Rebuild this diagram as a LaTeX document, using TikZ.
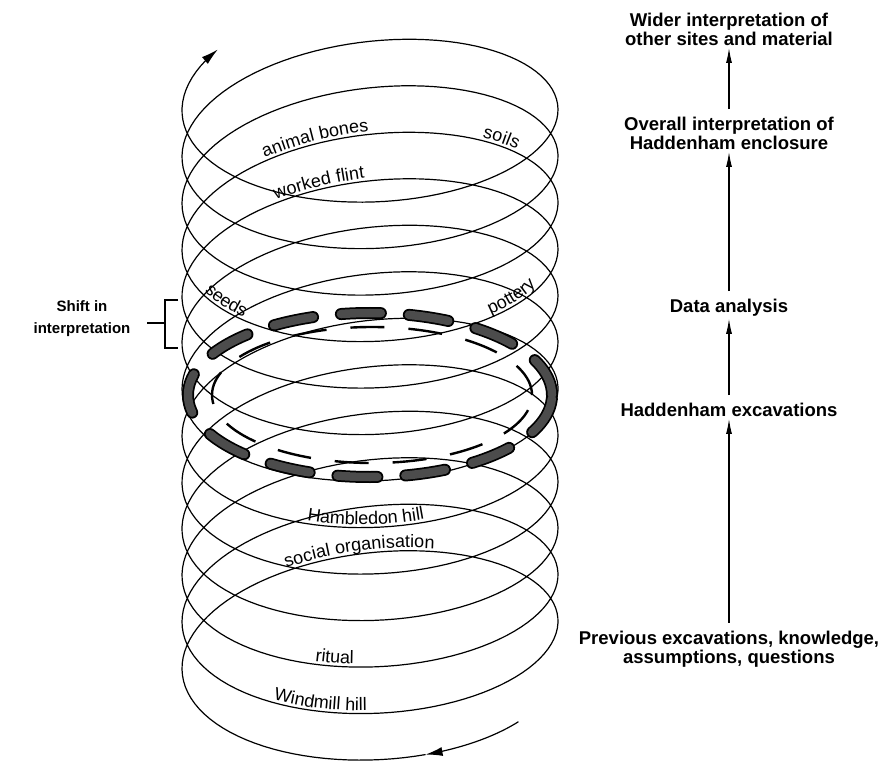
\documentclass[tikz,border=0pt]{standalone}
\usepackage{fontspec}
\setmainfont{Liberation Sans}
\usetikzlibrary{arrows.meta,decorations.text,positioning}

\tikzstyle{coil} = [line width=1.2pt]
\tikzstyle{arrow} = [line width=1.1pt,-{Latex[length=15pt,width=6pt]},shorten <=6pt]
\newcommand\labfont{\fontsize{18}{18}\selectfont}
\newcommand\coilpath[2]{plot[domain=#1:#2,samples=40] ({hx(\x)},{hy(\x)})}

\begin{document}
\begin{tikzpicture}[x=1pt,y=1pt,
  declare function={hx(\t)=370-188*sin(\t r); hy(\t)=96+7.4*\t-92*cos(\t r)-12*sin(\t r);},
  stage/.style={font=\fontsize{18.5}{19}\selectfont\bfseries, align=center, inner sep=2pt},
  coillabel/.style={decorate, decoration={text along path, text align=center, raise=3pt, text={|\labfont|#1}}},
  ringdash/.style={line cap=round, dash pattern=on 40pt off 28pt}]
\useasboundingbox (0,0) rectangle (888,764);

% SPIRAL
\draw[coil,-{Latex[length=17pt,width=9pt]}] plot[domain=-0.91:-0.3,samples=20] ({hx(\x)},{hy(\x)});
\draw[coil,-{Latex[length=17pt,width=9pt]}] plot[domain=-0.3:77.6,samples=1300] ({hx(\x)},{hy(\x)});

% SHIFT RING
\draw[ringdash,line width=12pt] (370,369) ellipse [x radius=182pt, y radius=82pt];
\draw[ringdash,line width=8.5pt,gray!60!black] (370,369) ellipse [x radius=182pt, y radius=82pt];
\draw[line width=2.4pt,dash pattern=on 34pt off 24pt] (372,369) ellipse [x radius=160pt, y radius=68pt];

% LABELS ON THE COILS
\path[coillabel={Windmill hill}] \coilpath{7.8}{5.6};
\path[coillabel={ritual}] \coilpath{13.5}{12.1};
\path[coillabel={Hambledon hill}] \coilpath{32.4}{30.5};
\path[coillabel={social organisation}] \coilpath{2.0}{4.2};
\path[coillabel={animal bones}] \coilpath{58.6}{60.1};
\path[coillabel={worked flint}] \coilpath{52.4}{53.8};
\path[coillabel={soils}] \coilpath{60.1}{60.9};
\path[coillabel={seeds}] \coilpath{57.85}{57.15};
\path[coillabel={pottery}] \coilpath{56.0}{55.2};

% SHIFT LABEL
\node[font=\fontsize{15}{22}\selectfont\bfseries, align=center] (shift) at (82,445) {Shift in\\interpretation};
\coordinate (brtop) at (165,464);
\coordinate (brbot) at (165,416);
\coordinate (brmid) at (165,441);
\draw[line width=1.2pt] ([xshift=13pt]brtop) -- (brtop) -- (brbot) -- ([xshift=13pt]brbot);
\draw[line width=1.2pt] ([xshift=-18pt]brmid) -- (brmid);

% STAGES
\node[stage] (wider) at (729,734.5) {Wider interpretation of\\other sites and material};
\node[stage] (overall) at (729,630.5) {Overall interpretation of\\Haddenham enclosure};
\node[stage] (analysis) at (729,456) {Data analysis};
\node[stage] (excav) at (729,354) {Haddenham excavations};
\node[stage] (previous) at (729,115) {Previous excavations, knowledge,\\assumptions, questions};

\draw[arrow] (previous) -- (excav);
\draw[arrow] (excav) -- (analysis);
\draw[arrow] (analysis) -- (overall);
\draw[arrow] (overall) -- (wider);

\end{tikzpicture}
\end{document}
